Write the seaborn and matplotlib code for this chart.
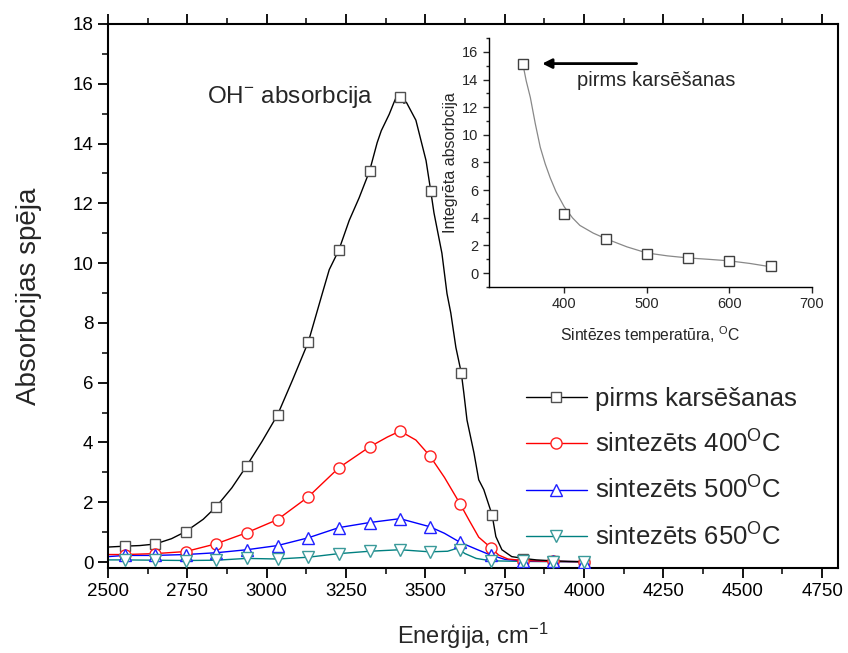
import matplotlib
matplotlib.use("Agg")
import matplotlib.pyplot as plt
from matplotlib.lines import Line2D
from matplotlib.ticker import MultipleLocator
import seaborn as sns

# ---------------- data ----------------
# black spectrum "pirms karsēšanas"
x_pre = [2500, 2553, 2600, 2648, 2700, 2745, 2800, 2841, 2890, 2937, 2985, 3034, 3081,
         3131, 3175, 3197, 3227, 3260, 3291, 3324, 3348, 3361, 3386, 3400, 3410, 3415,
         3425, 3432, 3440, 3470, 3502, 3517, 3527, 3552, 3568, 3580, 3596, 3613, 3621,
         3631, 3653, 3668, 3684, 3710, 3722, 3741, 3772, 3816, 3850, 3900, 3950, 4000]
y_pre = [0.50, 0.53, 0.55, 0.60, 0.78, 1.02, 1.43, 1.85, 2.48, 3.22, 4.03, 4.92, 6.08,
         7.36, 8.98, 9.78, 10.43, 11.43, 12.18, 13.08, 14.03, 14.43, 14.98, 15.35, 15.6, 15.45,
         15.62, 15.35, 15.38, 14.78, 13.43, 12.40, 11.68, 10.33, 8.98, 8.33, 7.18, 6.33, 5.66,
         4.75, 3.65, 2.75, 2.42, 1.58, 0.85, 0.41, 0.18, 0.11, 0.07, 0.04, 0.02, 0.01]
xm_pre = [2553, 2648, 2745, 2841, 2937, 3034, 3131, 3227, 3324, 3420, 3517, 3613, 3710, 3806, 3903, 3999]
ym_pre = [0.53, 0.60, 1.02, 1.85, 3.22, 4.92, 7.36, 10.43, 13.08, 15.55, 12.40, 6.33, 1.58, 0.11, 0.04, 0.01]

# red "sintezēts 400°C"
x_400 = [2500, 2553, 2648, 2745, 2841, 2937, 3034, 3131, 3227, 3324, 3380, 3420, 3470, 3514,
         3560, 3609, 3637, 3668, 3706, 3731, 3760, 3806, 3900, 4000]
y_400 = [0.25, 0.25, 0.28, 0.35, 0.61, 0.98, 1.42, 2.18, 3.15, 3.85, 4.18, 4.38, 4.08, 3.55,
         2.83, 1.95, 1.41, 0.83, 0.48, 0.23, 0.10, 0.05, 0.02, 0.01]
xm_400 = [2553, 2648, 2745, 2841, 2937, 3034, 3131, 3227, 3324, 3420, 3514, 3609, 3706, 3806, 3903, 3999]
ym_400 = [0.25, 0.28, 0.35, 0.61, 0.98, 1.42, 2.18, 3.15, 3.85, 4.38, 3.55, 1.95, 0.48, 0.05, 0.02, 0.01]

# blue "sintezēts 500°C"
x_500 = [2500, 2553, 2648, 2745, 2841, 2937, 3034, 3131, 3227, 3324, 3420, 3514, 3560, 3609,
         3660, 3706, 3750, 3806, 3903, 3999]
y_500 = [0.18, 0.22, 0.22, 0.25, 0.31, 0.41, 0.55, 0.81, 1.15, 1.32, 1.45, 1.18, 0.96, 0.66,
         0.43, 0.23, 0.09, 0.04, 0.02, 0.01]
xm_500 = [2553, 2648, 2745, 2841, 2937, 3034, 3131, 3227, 3324, 3420, 3514, 3609, 3706, 3806, 3903, 3999]
ym_500 = [0.22, 0.22, 0.25, 0.31, 0.41, 0.55, 0.81, 1.15, 1.32, 1.45, 1.18, 0.66, 0.23, 0.04, 0.02, 0.01]

# teal "sintezēts 650°C"
x_650 = [2500, 2553, 2648, 2745, 2841, 2937, 3034, 3131, 3227, 3324, 3420, 3514, 3570, 3600,
         3625, 3660, 3706, 3806, 3903, 3999]
y_650 = [0.07, 0.07, 0.06, 0.05, 0.06, 0.12, 0.10, 0.16, 0.28, 0.36, 0.41, 0.34, 0.36, 0.46,
         0.28, 0.12, 0.04, 0.02, 0.01, 0.01]
xm_650 = [2553, 2648, 2745, 2841, 2937, 3034, 3131, 3227, 3324, 3420, 3514, 3609, 3706, 3806, 3903, 3999]
ym_650 = [0.07, 0.06, 0.05, 0.06, 0.12, 0.10, 0.16, 0.28, 0.36, 0.41, 0.34, 0.40, 0.04, 0.02, 0.01, 0.01]

labels = ["pirms karsēšanas", "sintezēts 400$^{\\mathrm{O}}$C",
          "sintezēts 500$^{\\mathrm{O}}$C", "sintezēts 650$^{\\mathrm{O}}$C"]

# inset: integrated absorption vs synthesis temperature
t_inset = [350, 400, 450, 500, 550, 600, 650]
a_inset = [15.1, 4.3, 2.45, 1.4, 1.1, 0.9, 0.5]
# gray fit curve
t_fit = [350, 354, 359, 365, 371, 377, 383, 390, 400, 410, 419, 435, 450, 476, 500, 525, 550, 575, 600, 625, 650]
a_fit = [15.1, 13.9, 12.7, 10.8, 9.1, 7.9, 6.9, 5.9, 4.8, 4.0, 3.45, 2.9, 2.5, 1.9, 1.46, 1.25, 1.1, 1.0, 0.89, 0.7, 0.46]

# ---------------- style ----------------
sns.set_style("ticks")
plt.rcParams["font.family"] = ["Liberation Sans", "DejaVu Sans"]
plt.rcParams["mathtext.fontset"] = "custom"
plt.rcParams["mathtext.rm"] = "Liberation Sans"
plt.rcParams["mathtext.it"] = "Liberation Sans:italic"
plt.rcParams["mathtext.bf"] = "Liberation Sans:bold"

fig = plt.figure(figsize=(8.48, 6.53), dpi=100)
ax = fig.add_axes([0.1274, 0.1302, 0.8608, 0.8331])

series = [
    (x_pre, y_pre, xm_pre, ym_pre, "black", "s", "#505050", 7.0),
    (x_400, y_400, xm_400, ym_400, "#ff0000", "o", "#ff2020", 8.0),
    (x_500, y_500, xm_500, ym_500, "#0000ff", "^", "#2020ff", 9.0),
    (x_650, y_650, xm_650, ym_650, "#008080", "v", "#3a9a9a", 9.0),
]
handles = []
for (xs, ys, xm, ym, col, mk, mec, ms), lab in zip(series[::-1], labels[::-1]):
    sns.lineplot(x=xs, y=ys, ax=ax, color=col, lw=1.0, sort=False, estimator=None, legend=False)
for (xs, ys, xm, ym, col, mk, mec, ms), lab in zip(series, labels):
    ax.plot(xm, ym, ls="none", marker=mk, ms=ms, mfc="white", mec=mec, mew=1.0, zorder=5)
    handles.append(Line2D([0], [0], color=col, lw=1.0, marker=mk, ms=ms, mfc="white", mec=mec, mew=1.0))

ax.set_xlim(2500, 4800)
ax.set_ylim(-0.2, 18)
ax.xaxis.set_major_locator(MultipleLocator(250))
ax.xaxis.set_minor_locator(MultipleLocator(125))
ax.yaxis.set_major_locator(MultipleLocator(2))
ax.yaxis.set_minor_locator(MultipleLocator(1))
ax.tick_params(axis="both", which="major", direction="out", length=7, width=1.3, labelsize=13.5, colors="black")
ax.tick_params(axis="both", which="minor", direction="out", length=4, width=1.3)
ax.tick_params(axis="x", top=True, which="both")
ax.tick_params(axis="x", labeltop=False)
for s in ax.spines.values():
    s.set_linewidth(1.5)
    s.set_color("black")

ax.set_xlabel("Enerģija, cm$^{\\mathrm{-1}}$", fontsize=17, labelpad=15)
ax.set_ylabel("Absorbcijas spēja", fontsize=20, labelpad=22)

ax.text(2812, 15.57, "OH$^{\\mathrm{-}}$ absorbcija", fontsize=17.5, ha="left", va="center")

leg = ax.legend(handles, labels, loc="upper left", bbox_to_anchor=(0.572, 0.333),
                frameon=False, fontsize=18.5, handlelength=2.4, handletextpad=0.3,
                labelspacing=0.75, borderpad=0, borderaxespad=0)

# ---------------- inset ----------------
ins = fig.add_axes([0.5767, 0.5605, 0.3809, 0.3813])
sns.lineplot(x=t_fit, y=a_fit, ax=ins, color="#888888", lw=0.9, sort=False, estimator=None, legend=False)
ins.plot(t_inset, a_inset, ls="none", marker="s", ms=6.5, mfc="white", mec="#404040", mew=1.0, zorder=5)
ins.set_xlim(309, 700)
ins.set_ylim(-1, 17)
ins.xaxis.set_major_locator(MultipleLocator(100))
ins.yaxis.set_major_locator(MultipleLocator(2))
ins.yaxis.set_minor_locator(MultipleLocator(1))
ins.tick_params(axis="both", which="major", direction="out", length=4, width=1.0, labelsize=10.5)
ins.tick_params(axis="y", which="minor", direction="out", length=2.5, width=1.0)
for side in ["top", "right"]:
    ins.spines[side].set_visible(False)
for side in ["left", "bottom"]:
    ins.spines[side].set_linewidth(1.0)
    ins.spines[side].set_color("black")
ins.set_xlabel("Sintēzes temperatūra, $^{\\mathrm{O}}$C", fontsize=11.3, labelpad=9)
ins.set_ylabel("Integrēta absorbcija", fontsize=11.5, labelpad=3)
ins.annotate("", xy=(370, 15.15), xytext=(491, 15.15),
             arrowprops=dict(arrowstyle="-|>", color="black", lw=2.0, mutation_scale=14))
ins.text(416, 13.9, "pirms karsēšanas", fontsize=14.5, ha="left", va="center")

fig.savefig("out.png", dpi=100)
